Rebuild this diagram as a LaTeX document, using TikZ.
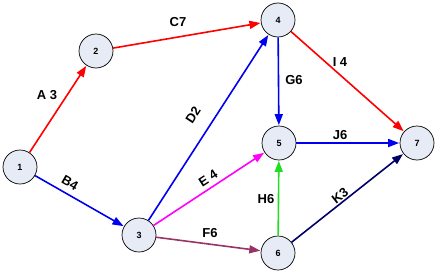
\documentclass[tikz,border=0pt]{standalone}
\usepackage{fontspec}
\setmainfont{Liberation Sans}
\usetikzlibrary{arrows.meta}
\definecolor{evfill}{RGB}{230,235,245}
\definecolor{actred}{RGB}{255,0,0}
\definecolor{actblue}{RGB}{0,0,240}
\definecolor{actmagenta}{RGB}{255,0,255}
\definecolor{actmaroon}{RGB}{153,51,102}
\definecolor{actgreen}{RGB}{34,221,34}
\definecolor{actnavy}{RGB}{0,0,102}

\begin{document}
\begin{tikzpicture}[
  x=1pt, y=-1pt,
  event/.style={circle, draw=black, fill=evfill, line width=0.7pt,
                minimum size=34pt, inner sep=0pt,
                font=\fontsize{9}{10}\selectfont\bfseries},
  act/.style={-{Triangle[length=11pt,width=8pt]}, line width=1.6pt, shorten >=0.5pt},
  lbl/.style={font=\fontsize{13}{15}\selectfont\bfseries, inner sep=0pt}
]
  \useasboundingbox (0,0) rectangle (438,273);
  \node[event] (e1) at (20,167) {1};
  \node[event] (e2) at (96,51) {2};
  \node[event] (e3) at (139,235) {3};
  \node[event] (e4) at (278,20) {4};
  \node[event] (e5) at (279,143) {5};
  \node[event] (e6) at (278,253) {6};
  \node[event] (e7) at (417,143) {7};
  \draw[act, actred] (e1) -- (e2);
  \draw[act, actred] (e2) -- (e4);
  \draw[act, actred] (e4) -- (e7);
  \draw[act, actblue] (e1) -- (e3);
  \draw[act, actblue] (e3) -- (e4);
  \draw[act, actblue] (e4) -- (e5);
  \draw[act, actblue] (e5) -- (e7);
  \draw[act, actmagenta] (e3) -- (e5);
  \draw[act, actmaroon] (e3) -- (e6);
  \draw[act, actgreen] (e6) -- (e5);
  \draw[act, actnavy] (e6) -- (e7);
  % activity labels
  \node[lbl] (la) at (47,95) {A 3};
  \node[lbl] (lc) at (178,22) {C7};
  \node[lbl] (li) at (340,62) {I 4};
  \node[lbl, rotate=-30] (lb) at (70,183) {B4};
  \node[lbl, rotate=57] (ld) at (193,115) {D2};
  \node[lbl] (lg) at (294,80) {G6};
  \node[lbl] (lj) at (340,135) {J6};
  \node[lbl, rotate=33] (le) at (208,178) {E 4};
  \node[lbl] (lf) at (210,233) {F6};
  \node[lbl] (lh) at (266,199) {H6};
  \node[lbl, rotate=38] (lk) at (340,196) {K3};
\end{tikzpicture}
\end{document}
